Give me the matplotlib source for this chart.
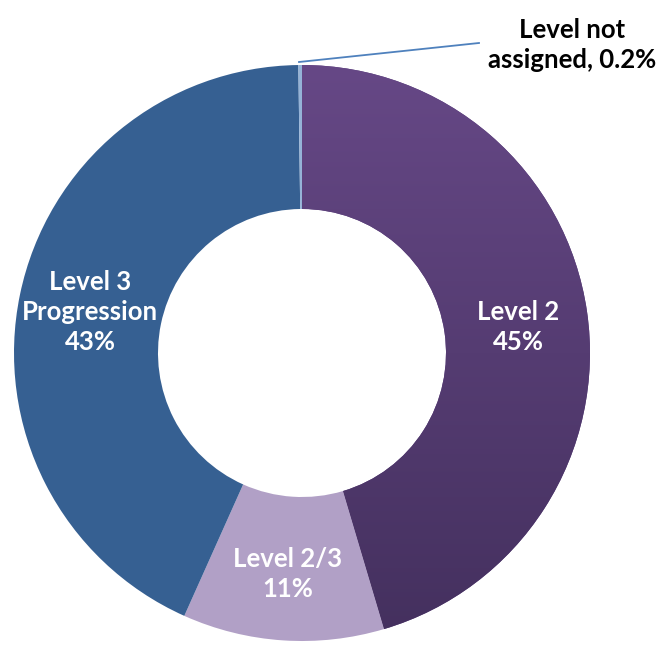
import matplotlib
matplotlib.use("Agg")
import matplotlib.pyplot as plt
import numpy as np
from matplotlib.colors import LinearSegmentedColormap

# data
labels = ["Level 2\n45%", "Level 2/3\n11%", "Level 3\nProgression\n43%", "Level not\nassigned, 0.2%"]
values = [45.4, 11.3, 43.1, 0.2]
colors = ["#5a3f7d", "#b1a0c6", "#366092", "#95b3d7"]

W, H = 663, 645
fig = plt.figure(figsize=(W / 100, H / 100), dpi=100)
ax = fig.add_axes([0, 0, 1, 1])

cx, cy, R = 302, H - 353, 288
wedges, _ = ax.pie(values, colors=colors, startangle=90, counterclock=False,
                   center=(cx, cy), radius=R, frame=True,
                   wedgeprops=dict(width=R * 0.5, linewidth=0))

# vertical gradient on the Level 2 slice
cmap = LinearSegmentedColormap.from_list("p", ["#44305e", "#664886"])
grad = np.linspace(0, 1, 256).reshape(-1, 1)
im = ax.imshow(grad, cmap=cmap, extent=(cx - R, cx + R, cy - R, cy + R),
               origin="lower", aspect="auto", zorder=wedges[0].get_zorder() + 0.1)
im.set_clip_path(wedges[0])

ax.set_xlim(0, W)
ax.set_ylim(0, H)
ax.set_aspect("equal")
ax.axis("off")

font = dict(family=["Lato", "DejaVu Sans"], weight="bold", fontsize=18.5,
            ha="center", va="center", linespacing=1.3)
ax.text(518, H - 327, labels[0], color="white", zorder=5, **font)
ax.text(288, H - 574, labels[1], color="white", zorder=5, **font)
ax.text(90, H - 312, labels[2], color="white", zorder=5, **font)
ax.text(572, H - 45, labels[3], color="black", zorder=5, **font)

# leader line for the tiny slice
ax.plot([299, 479], [H - 62, H - 43], color="#4f81bd", linewidth=1.3, zorder=5)

fig.savefig("out.png", dpi=100)
